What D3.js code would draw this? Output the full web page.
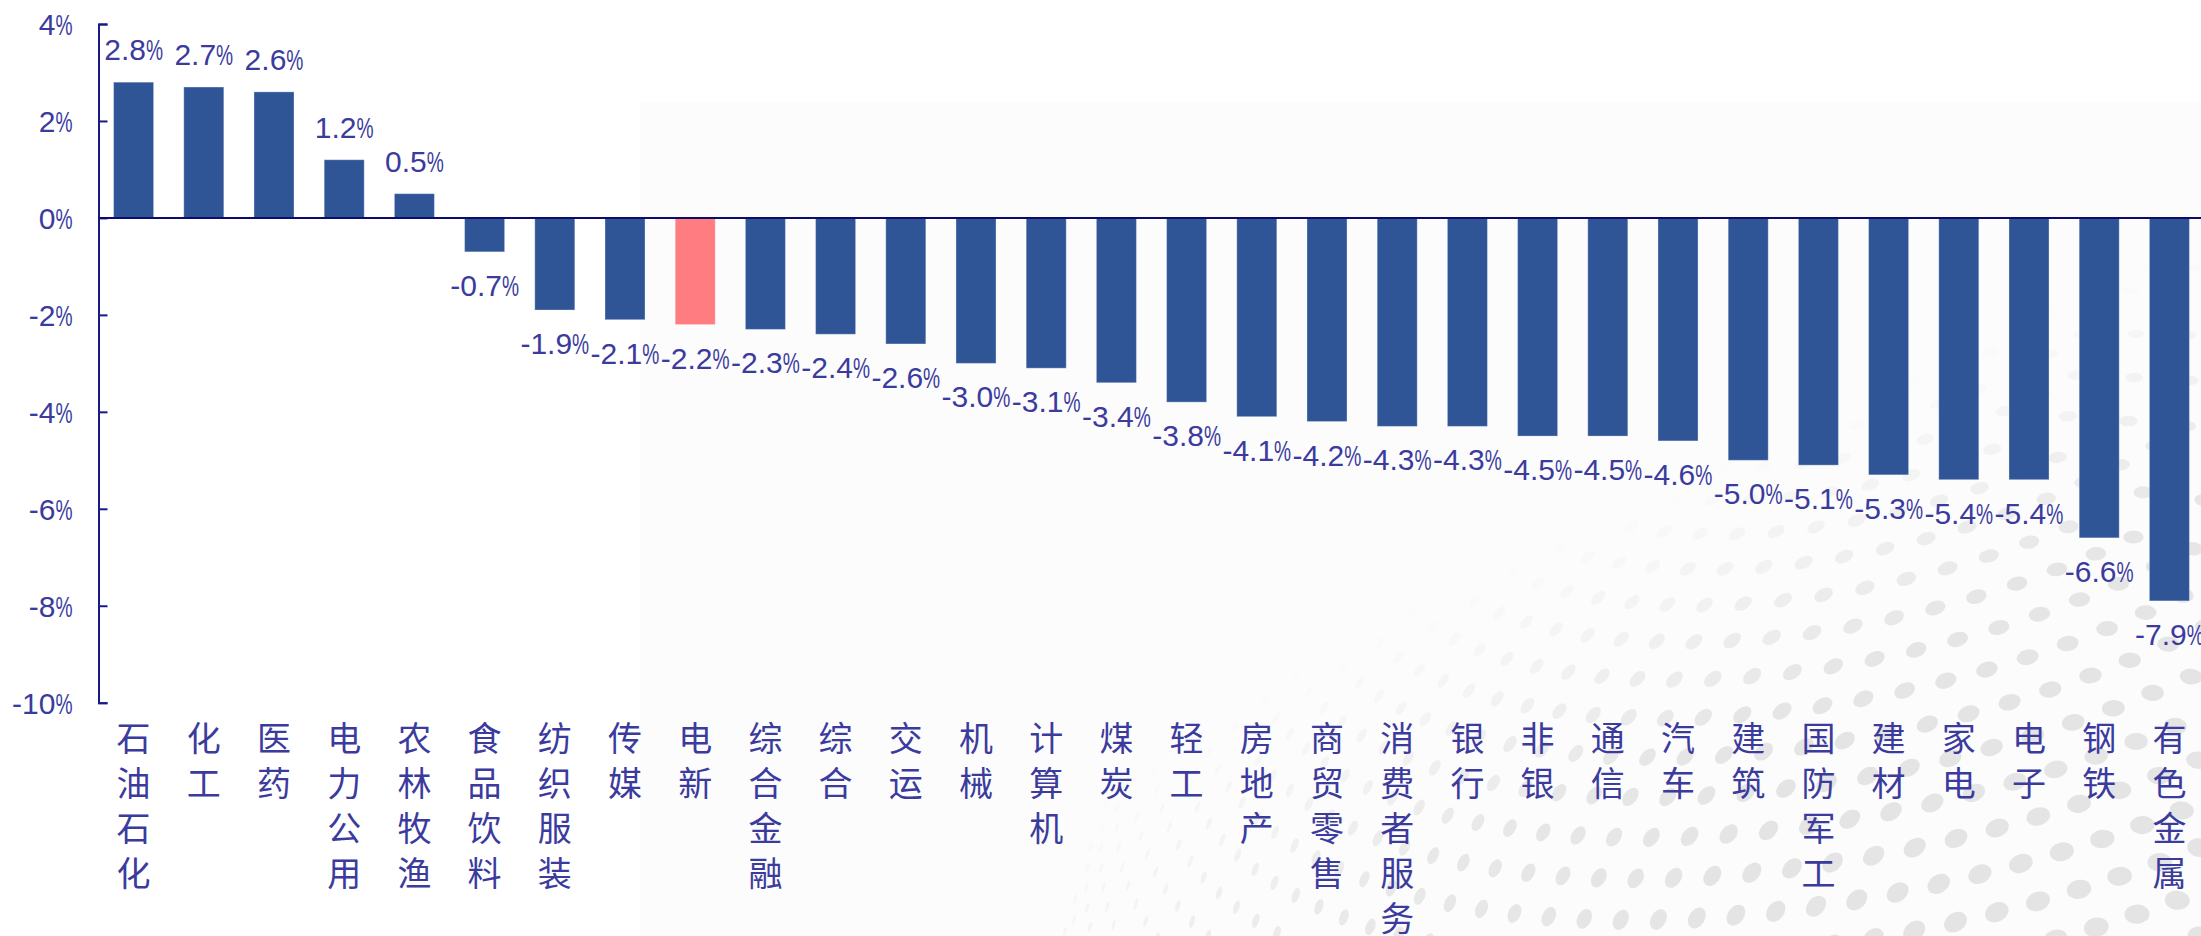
<!DOCTYPE html>
<html>
<head>
<meta charset="utf-8">
<script src="https://cdn.jsdelivr.net/npm/d3@7"></script>
<style>
  html, body { margin: 0; padding: 0; background: #ffffff; }
  svg { display: block; }
</style>
</head>
<body>
<svg id="chart" width="2201" height="936"></svg>
<script>
// ---------------- data ----------------
const categories = ["石油石化","化工","医药","电力公用","农林牧渔","食品饮料","纺织服装","传媒","电新","综合金融","综合","交运","机械","计算机","煤炭","轻工","房地产","商贸零售","消费者服务","银行","非银","通信","汽车","建筑","国防军工","建材","家电","电子","钢铁","有色金属"];
const values = [2.8,2.7,2.6,1.2,0.5,-0.7,-1.9,-2.1,-2.2,-2.3,-2.4,-2.6,-3.0,-3.1,-3.4,-3.8,-4.1,-4.2,-4.3,-4.3,-4.5,-4.5,-4.6,-5.0,-5.1,-5.3,-5.4,-5.4,-6.6,-7.9];
const highlightCategory = "电新";
const yTickValues = [-10,-8,-6,-4,-2,0,2,4];

// ---------------- styles ----------------
const W = 2201, H = 936;
const barColor = "#2F5597";
const highlightColor = "#FF7C80";
const textColor = "#3b3b9e";
const axisColor = "#1a1a86";
const numFont = "'Liberation Sans', Arial, sans-serif";
const cjkFont = "'Noto Sans CJK SC', 'Noto Sans', sans-serif";
const numSize = 30;

const svg = d3.select("#chart");
svg.append("rect").attr("x",0).attr("y",0).attr("width",W).attr("height",H).attr("fill","#ffffff");

// background panel
const panel = {x: 640, y: 102};
svg.append("rect").attr("x",panel.x).attr("y",panel.y).attr("width",W-panel.x).attr("height",H-panel.y).attr("fill","#fcfcfc");
const defs = svg.append("defs");
defs.append("clipPath").attr("id","panelClip").append("rect")
  .attr("x",panel.x).attr("y",panel.y).attr("width",W-panel.x).attr("height",H-panel.y);

// decorative halftone sphere (background)
(function drawDots(){
  const g = svg.append("g").attr("clip-path","url(#panelClip)");
  const S = {cx: 2150, cy: 1200, R: 1120};
  const tilt = 0.55, yaw = -0.5;
  const A = [760, 920], B = [2230, 215];
  const lx = B[0]-A[0], ly = B[1]-A[1], ll = Math.hypot(lx, ly);
  let row = 0;
  for (let lat = -86; lat <= 86; lat += 2.2, row++) {
    const phi = lat*Math.PI/180;
    const n = Math.max(1, Math.round(165*Math.cos(phi)));
    for (let k = 0; k < n; k++) {
      const th = 2*Math.PI*k/n + (row % 2 ? Math.PI/n : 0);
      const x = Math.cos(phi)*Math.cos(th), y = Math.sin(phi), z = Math.cos(phi)*Math.sin(th);
      const y2 = y*Math.cos(tilt) - z*Math.sin(tilt);
      const z2 = y*Math.sin(tilt) + z*Math.cos(tilt);
      const x3 = x*Math.cos(yaw) + z2*Math.sin(yaw);
      const z3 = -x*Math.sin(yaw) + z2*Math.cos(yaw);
      if (z3 <= 0.06) continue;
      const px = S.cx + S.R*x3, py = S.cy - S.R*y2;
      if (px < panel.x - 20 || py < panel.y - 20 || px > W+20 || py > H+20) continue;
      const d = -((px-A[0])*ly - (py-A[1])*lx) / ll;
      const op = Math.max(0, Math.min(1, d/240));
      if (op <= 0) continue;
      const r0 = 5 + 8*z3*z3;
      const ang = Math.atan2(py-S.cy, px-S.cx)*180/Math.PI;
      g.append("ellipse")
        .attr("cx", 0).attr("cy", 0)
        .attr("rx", Math.max(1.5, r0*Math.max(z3, 0.3)*0.8))
        .attr("ry", r0)
        .attr("transform", `translate(${px.toFixed(1)},${py.toFixed(1)}) rotate(${ang.toFixed(1)})`)
        .attr("fill", "#dcdcdc")
        .attr("opacity", (0.25 + 0.55*z3)*op);
    }
  }
})();

// ---------------- scales ----------------
const plotLeft = 98.5, plotRight = 2204.5;
const x = d3.scaleBand().domain(categories).range([plotLeft, plotRight]).paddingInner(0.43).paddingOuter(0.215);
const y = d3.scaleLinear().domain([-10, 4]).range([702.7, 24]);

// ---------------- bars ----------------
const data = categories.map((c,i) => ({cat: c, v: values[i]}));
svg.append("g").selectAll("rect").data(data).join("rect")
  .attr("x", d => x(d.cat))
  .attr("width", x.bandwidth())
  .attr("y", d => y(Math.max(0, d.v)))
  .attr("height", d => Math.abs(y(d.v) - y(0)))
  .attr("fill", d => d.cat === highlightCategory ? highlightColor : barColor)
  .attr("stroke", "rgba(255,255,255,0.3)")
  .attr("stroke-width", 1);

// helper: number + narrow percent sign
function pctLabel(parent, numStr, px, py, anchor) {
  const g = parent.append("g").attr("transform", `translate(${px},${py})`);
  const inner = g.append("g");
  const t1 = inner.append("text").attr("x",0).attr("y",0).attr("text-anchor","start")
    .attr("font-family", numFont).attr("font-size", numSize).attr("fill", textColor).text(numStr);
  const w1 = t1.node().getComputedTextLength();
  const sx = 0.64;
  const t2 = inner.append("text").attr("x",0).attr("y",0).attr("text-anchor","start")
    .attr("transform", `translate(${w1},0) scale(${sx},1)`)
    .attr("font-family", numFont).attr("font-size", numSize).attr("fill", textColor).text("%");
  const w2 = t2.node().getComputedTextLength()*sx;
  const shift = anchor === "middle" ? -(w1+w2)/2 : (anchor === "end" ? -(w1+w2) : 0);
  inner.attr("transform", `translate(${shift},0)`);
  return g;
}

// ---------------- y axis ----------------
const yAxis = d3.axisLeft(y).tickValues(yTickValues).tickSizeInner(-9).tickSizeOuter(-9).tickPadding(26).tickFormat(d => d + "%");
const ag = svg.append("g").attr("transform", `translate(${plotLeft},0)`).call(yAxis);
ag.select(".domain").attr("stroke", axisColor).attr("stroke-width", 2);
ag.selectAll(".tick line").attr("stroke", axisColor).attr("stroke-width", 2);
ag.selectAll(".tick").each(function(d){
  const tick = d3.select(this);
  tick.select("text").remove();
  pctLabel(tick, String(d), -26, 10.5, "end");
});

// zero line
svg.append("line")
  .attr("x1", plotLeft).attr("x2", W)
  .attr("y1", y(0)).attr("y2", y(0))
  .attr("stroke", "#0c0c6e").attr("stroke-width", 2);

// ---------------- value labels ----------------
const lg = svg.append("g");
data.forEach(d => {
  const cx = x(d.cat) + x.bandwidth()/2;
  const by = d.v >= 0 ? y(d.v) - 22 : y(d.v) + 44;
  pctLabel(lg, d.v.toFixed(1), cx, by, "middle");
});

// ---------------- category labels (vertical) ----------------
const cg = svg.append("g");
data.forEach(d => {
  const cx = x(d.cat) + x.bandwidth()/2;
  const t = cg.append("text")
    .attr("font-family", cjkFont).attr("font-size", 34).attr("fill", textColor)
    .attr("text-anchor", "middle");
  Array.from(d.cat).forEach((ch, i) => {
    t.append("tspan").attr("x", cx).attr("y", 751 + i*45).text(ch);
  });
});
</script>
</body>
</html>
